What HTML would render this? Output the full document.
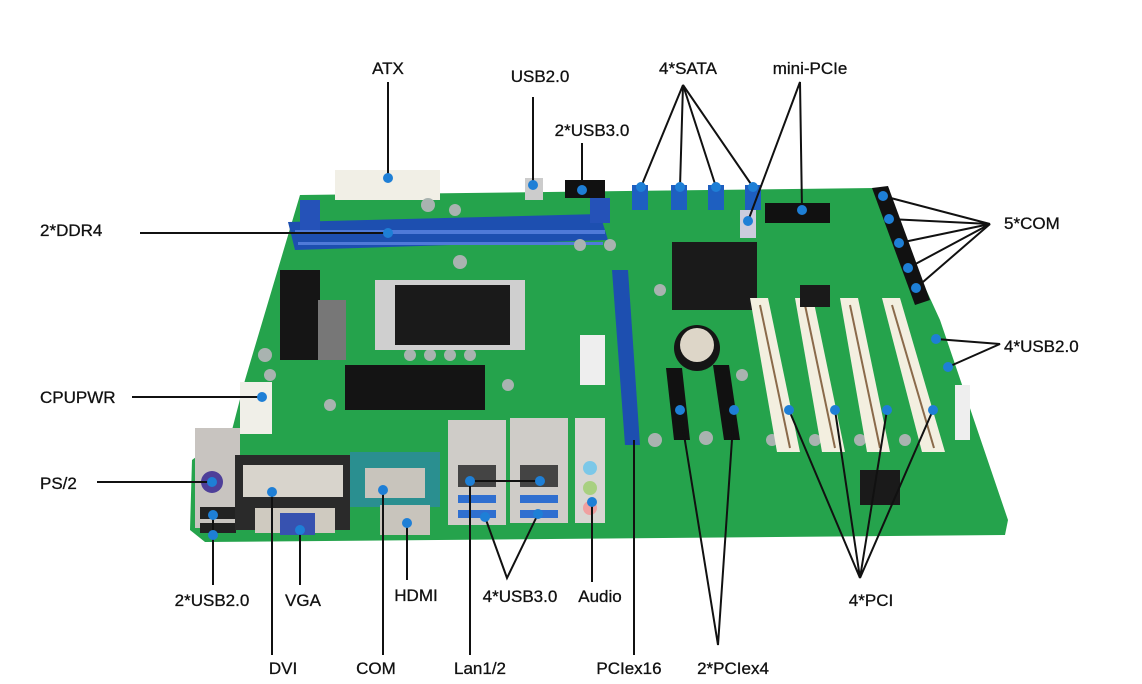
<!DOCTYPE html>
<html><head><meta charset="utf-8"><style>
html,body{margin:0;padding:0;background:#fff;}
svg{display:block}
text{font-family:"Liberation Sans",sans-serif;font-size:17px;fill:#111;stroke:#111;stroke-width:0.3px;}
</style></head><body>
<svg width="1142" height="684" viewBox="0 0 1142 684" xmlns="http://www.w3.org/2000/svg">
<rect width="1142" height="684" fill="#fff"/>
<!-- board -->
<polygon points="300,195 875,188 885,200 940,320 1008,520 1005,535 205,542 190,530 192,460 232,430 245,380" fill="#25a34c"/>
<!-- ATX -->
<rect x="335" y="170" width="105" height="30" fill="#f1efe6"/>
<!-- DDR slots -->
<polygon points="288,222 600,214 608,240 295,250" fill="#1d4fb0"/>
<rect x="295" y="230" width="310" height="4" fill="#4f7ad8"/>
<rect x="298" y="242" width="305" height="3" fill="#4f7ad8"/>
<rect x="300" y="200" width="20" height="30" fill="#2552b8"/>
<rect x="590" y="198" width="20" height="25" fill="#2552b8"/>
<!-- top header -->
<rect x="565" y="180" width="40" height="18" fill="#111"/>
<rect x="525" y="178" width="18" height="22" fill="#ccc"/>
<!-- SATA -->
<rect x="632" y="185" width="16" height="25" fill="#1e5fc0"/>
<rect x="671" y="185" width="16" height="25" fill="#1e5fc0"/>
<rect x="708" y="185" width="16" height="25" fill="#1e5fc0"/>
<rect x="745" y="185" width="16" height="25" fill="#1e5fc0"/>
<rect x="740" y="210" width="16" height="28" fill="#ccd"/>
<rect x="765" y="203" width="65" height="20" fill="#111"/>
<!-- COM headers right -->
<polygon points="872,188 888,186 930,300 915,305" fill="#111"/>
<!-- capacitors -->
<g fill="#a9b3b0">
<circle cx="428" cy="205" r="7"/><circle cx="455" cy="210" r="6"/><circle cx="460" cy="262" r="7"/>
<circle cx="580" cy="245" r="6"/><circle cx="610" cy="245" r="6"/><circle cx="265" cy="355" r="7"/>
<circle cx="270" cy="375" r="6"/><circle cx="410" cy="355" r="6"/><circle cx="430" cy="355" r="6"/><circle cx="450" cy="355" r="6"/><circle cx="470" cy="355" r="6"/>
<circle cx="508" cy="385" r="6"/><circle cx="655" cy="440" r="7"/><circle cx="706" cy="438" r="7"/>
<circle cx="772" cy="440" r="6"/><circle cx="815" cy="440" r="6"/><circle cx="860" cy="440" r="6"/><circle cx="905" cy="440" r="6"/>
<circle cx="742" cy="375" r="6"/><circle cx="660" cy="290" r="6"/><circle cx="330" cy="405" r="6"/>
</g>
<!-- CPU area -->
<rect x="280" y="270" width="40" height="90" fill="#151515"/>
<rect x="318" y="300" width="28" height="60" fill="#777"/>
<rect x="375" y="280" width="150" height="70" fill="#cfcfcf"/>
<rect x="395" y="285" width="115" height="60" fill="#1a1a1a"/>
<rect x="345" y="365" width="140" height="45" fill="#141414"/>
<rect x="580" y="335" width="25" height="50" fill="#eee"/>
<!-- chipset heatsink -->
<rect x="672" y="242" width="85" height="68" fill="#1a1a1a"/>
<!-- battery -->
<circle cx="697" cy="348" r="23" fill="#151515"/>
<circle cx="697" cy="345" r="17" fill="#ddd6c8"/>
<!-- PCIe x16 -->
<polygon points="612,270 628,270 640,445 625,445" fill="#1d4fb0"/>
<!-- PCIe x4 -->
<polygon points="666,368 682,368 690,440 674,440" fill="#111"/>
<polygon points="713,365 729,365 740,440 724,440" fill="#111"/>
<!-- PCI -->
<polygon points="750,298 768,298 800,452 777,452" fill="#f3efe0"/>
<polygon points="795,298 813,298 845,452 822,452" fill="#f3efe0"/>
<polygon points="840,298 858,298 890,452 867,452" fill="#f3efe0"/>
<polygon points="882,298 900,298 945,452 922,452" fill="#f3efe0"/>
<line x1="760" y1="305" x2="790" y2="448" stroke="#8a6a4a" stroke-width="2"/>
<line x1="805" y1="305" x2="835" y2="448" stroke="#8a6a4a" stroke-width="2"/>
<line x1="850" y1="305" x2="880" y2="448" stroke="#8a6a4a" stroke-width="2"/>
<line x1="892" y1="305" x2="934" y2="448" stroke="#8a6a4a" stroke-width="2"/>
<rect x="860" y="470" width="40" height="35" fill="#1a1a1a"/>
<rect x="800" y="285" width="30" height="22" fill="#1a1a1a"/>
<rect x="955" y="385" width="15" height="55" fill="#eee"/>
<!-- CPUPWR -->
<rect x="240" y="382" width="32" height="52" fill="#f0efe8"/>
<!-- IO -->
<rect x="195" y="428" width="45" height="100" fill="#c8c4c0"/>
<circle cx="212" cy="482" r="11" fill="#4e3f99"/>
<rect x="200" y="507" width="36" height="12" fill="#222"/>
<rect x="200" y="523" width="36" height="10" fill="#222"/>
<rect x="235" y="455" width="115" height="75" fill="#2a2a2a"/>
<rect x="243" y="465" width="100" height="32" fill="#d8d4cc"/>
<rect x="255" y="508" width="80" height="25" fill="#cfcac0"/>
<rect x="280" y="513" width="35" height="22" fill="#3752b0"/>
<rect x="350" y="452" width="90" height="55" fill="#2a8f90"/>
<rect x="365" y="468" width="60" height="30" fill="#c8c4bc"/>
<rect x="380" y="505" width="50" height="30" fill="#c8c4bc"/>
<rect x="448" y="420" width="58" height="105" fill="#cfccc8"/>
<rect x="458" y="465" width="38" height="22" fill="#444"/>
<rect x="458" y="495" width="38" height="8" fill="#2f6fd0"/>
<rect x="458" y="510" width="38" height="8" fill="#2f6fd0"/>
<rect x="510" y="418" width="58" height="105" fill="#cfccc8"/>
<rect x="520" y="465" width="38" height="22" fill="#444"/>
<rect x="520" y="495" width="38" height="8" fill="#2f6fd0"/>
<rect x="520" y="510" width="38" height="8" fill="#2f6fd0"/>
<rect x="575" y="418" width="30" height="105" fill="#d8d6d2"/>
<circle cx="590" cy="468" r="7" fill="#7cc8e8"/>
<circle cx="590" cy="488" r="7" fill="#a8d080"/>
<circle cx="590" cy="508" r="7" fill="#f0a0a0"/>
<!-- leader lines -->
<g stroke="#111" stroke-width="2" fill="none">
<line x1="388" y1="82" x2="388" y2="178"/>
<line x1="533" y1="97" x2="533" y2="185"/>
<line x1="582" y1="143" x2="582" y2="190"/>
<polyline points="641,187 683,85 680,187"/>
<polyline points="716,187 683,85 753,187"/>
<polyline points="802,210 800,82 748,221"/>
<line x1="140" y1="233" x2="388" y2="233"/>
<polyline points="883,196 990,224 889,219"/>
<polyline points="899,243 990,224 908,268"/>
<line x1="990" y1="224" x2="916" y2="288"/>
<polyline points="936,339 1000,344 948,367"/>
<line x1="132" y1="397" x2="262" y2="397"/>
<line x1="97" y1="482" x2="212" y2="482"/>
<line x1="213" y1="515" x2="213" y2="585"/>
<line x1="300" y1="530" x2="300" y2="585"/>
<line x1="272" y1="492" x2="272" y2="655"/>
<line x1="383" y1="490" x2="383" y2="655"/>
<line x1="407" y1="523" x2="407" y2="580"/>
<polyline points="540,481 470,481 470,655"/>
<polyline points="485,517 507,578 538,514"/>
<line x1="592" y1="502" x2="592" y2="582"/>
<line x1="634" y1="440" x2="634" y2="655"/>
<polyline points="680,410 718,645 734,410"/>
<polyline points="789,410 860,578 835,410"/>
<polyline points="887,410 860,578 933,410"/>
</g>
<!-- dots -->
<g fill="#1e7fd6">
<circle cx="388" cy="178" r="5"/><circle cx="533" cy="185" r="5"/><circle cx="582" cy="190" r="5"/>
<circle cx="641" cy="187" r="5"/><circle cx="680" cy="187" r="5"/><circle cx="716" cy="187" r="5"/><circle cx="753" cy="187" r="5"/>
<circle cx="802" cy="210" r="5"/><circle cx="748" cy="221" r="5"/><circle cx="388" cy="233" r="5"/>
<circle cx="883" cy="196" r="5"/><circle cx="889" cy="219" r="5"/><circle cx="899" cy="243" r="5"/><circle cx="908" cy="268" r="5"/><circle cx="916" cy="288" r="5"/>
<circle cx="936" cy="339" r="5"/><circle cx="948" cy="367" r="5"/><circle cx="262" cy="397" r="5"/>
<circle cx="212" cy="482" r="5"/><circle cx="213" cy="515" r="5"/><circle cx="213" cy="535" r="5"/>
<circle cx="272" cy="492" r="5"/><circle cx="300" cy="530" r="5"/><circle cx="383" cy="490" r="5"/><circle cx="407" cy="523" r="5"/>
<circle cx="470" cy="481" r="5"/><circle cx="540" cy="481" r="5"/><circle cx="485" cy="517" r="5"/><circle cx="538" cy="514" r="5"/>
<circle cx="592" cy="502" r="5"/><circle cx="680" cy="410" r="5"/><circle cx="734" cy="410" r="5"/>
<circle cx="789" cy="410" r="5"/><circle cx="835" cy="410" r="5"/><circle cx="887" cy="410" r="5"/><circle cx="933" cy="410" r="5"/>
</g>
<!-- labels -->
<g>
<text x="388" y="74" text-anchor="middle">ATX</text>
<text x="540" y="82" text-anchor="middle">USB2.0</text>
<text x="592" y="136" text-anchor="middle">2*USB3.0</text>
<text x="688" y="74" text-anchor="middle">4*SATA</text>
<text x="810" y="74" text-anchor="middle">mini-PCIe</text>
<text x="40" y="236">2*DDR4</text>
<text x="1004" y="229">5*COM</text>
<text x="1004" y="352">4*USB2.0</text>
<text x="40" y="403">CPUPWR</text>
<text x="40" y="489">PS/2</text>
<text x="212" y="606" text-anchor="middle">2*USB2.0</text>
<text x="303" y="606" text-anchor="middle">VGA</text>
<text x="283" y="674" text-anchor="middle">DVI</text>
<text x="376" y="674" text-anchor="middle">COM</text>
<text x="416" y="601" text-anchor="middle">HDMI</text>
<text x="480" y="674" text-anchor="middle">Lan1/2</text>
<text x="520" y="602" text-anchor="middle">4*USB3.0</text>
<text x="600" y="602" text-anchor="middle">Audio</text>
<text x="629" y="674" text-anchor="middle">PCIex16</text>
<text x="733" y="674" text-anchor="middle">2*PCIex4</text>
<text x="871" y="606" text-anchor="middle">4*PCI</text>
</g>
</svg>
</body></html>
